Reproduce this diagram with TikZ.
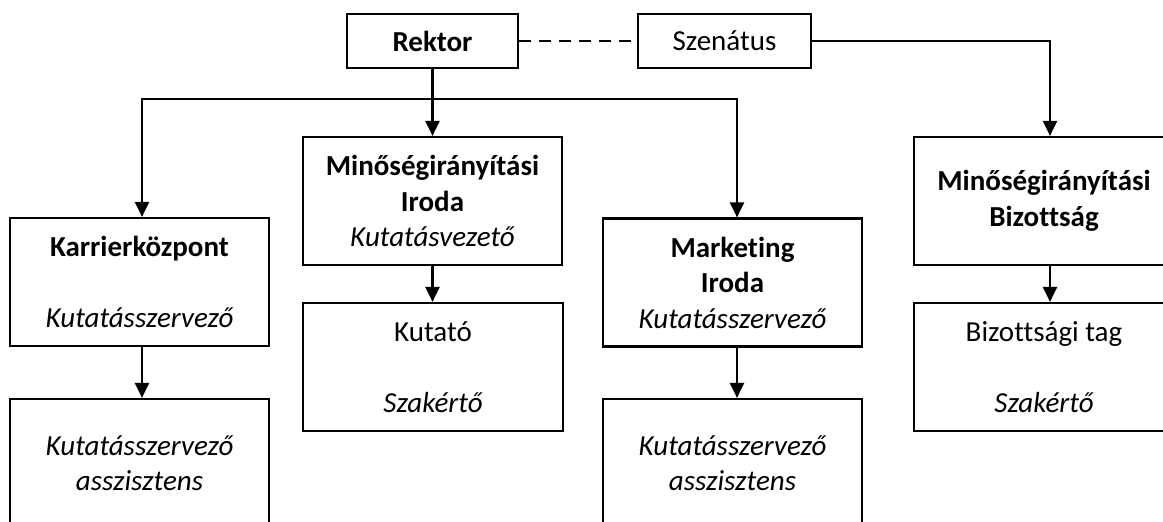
\documentclass[tikz,border=0pt]{standalone}
\usepackage{fontspec}
\setmainfont{Carlito}[Ligatures=NoCommon]
\usetikzlibrary{arrows.meta}
\tikzset{
  box/.style={draw=black, line width=2.2pt, rectangle, inner sep=0pt, align=center,
    minimum width=259pt, minimum height=128pt,
    font=\fontsize{29}{35.5}\selectfont},
  topbox/.style={box, minimum width=171pt, minimum height=54pt},
  arr/.style={draw=black, line width=2.2pt, -{Triangle[length=15pt,width=14pt]}},
  link/.style={draw=black, line width=2.2pt},
  dashlink/.style={draw=black, line width=2pt, dash pattern=on 12pt off 8pt}
}
\begin{document}
\begin{tikzpicture}[x=1pt,y=-1pt]
\useasboundingbox (0,0) rectangle (1163,522);
\clip (0,0) rectangle (1163,522);
\node[topbox] (rektor) at (432.5,41) {\textbf{Rektor}};
\node[topbox, minimum width=173pt] (szenatus) at (724.5,41) {Szenátus};
\node[box] (karrier) at (139.5,282) {\textbf{Karrierközpont}\\[35.5pt]\textit{Kutatásszervező}};
\node[box] (karrierasst) at (139.5,463) {\textit{Kutatásszervező}\\\textit{asszisztens}};
\node[box] (iroda) at (432.5,201) {\textbf{Minőségirányítási}\\\textbf{Iroda}\\\textit{Kutatásvezető}};
\node[box, minimum width=260pt] (kutato) at (433,367) {Kutató\\[35.5pt]\textit{Szakértő}};
\node[box] (marketing) at (732.5,282.5) {\textbf{Marketing}\\\textbf{Iroda}\\\textit{Kutatásszervező}};
\node[box] (marketingasst) at (732.5,463) {\textit{Kutatásszervező}\\\textit{asszisztens}};
\node[box, minimum width=260pt] (bizottsag) at (1044,201) {\textbf{Minőségirányítási}\\\textbf{Bizottság}};
\node[box, minimum width=260pt] (tag) at (1044,367) {Bizottsági tag\\[35.5pt]\textit{Szakértő}};
\coordinate (j) at (432.5,99);
\draw[dashlink] (rektor.east) -- (szenatus.west);
\draw[arr] (rektor.south) -- (iroda.north);
\draw[arr] (j) -| ([xshift=2.5pt]karrier.north);
\draw[arr] (j) -| ([xshift=4.5pt]marketing.north);
\draw[arr] (szenatus.east) -| ([xshift=6pt]bizottsag.north);
\draw[arr] ([xshift=2.5pt]karrier.south) -- ([xshift=2.5pt]karrierasst.north);
\draw[arr] (iroda.south) -- (iroda.south |- kutato.north);
\draw[arr] ([xshift=4.5pt]marketing.south) -- ([xshift=4.5pt]marketingasst.north);
\draw[arr] ([xshift=6pt]bizottsag.south) -- ([xshift=6pt]tag.north);
\end{tikzpicture}
\end{document}
